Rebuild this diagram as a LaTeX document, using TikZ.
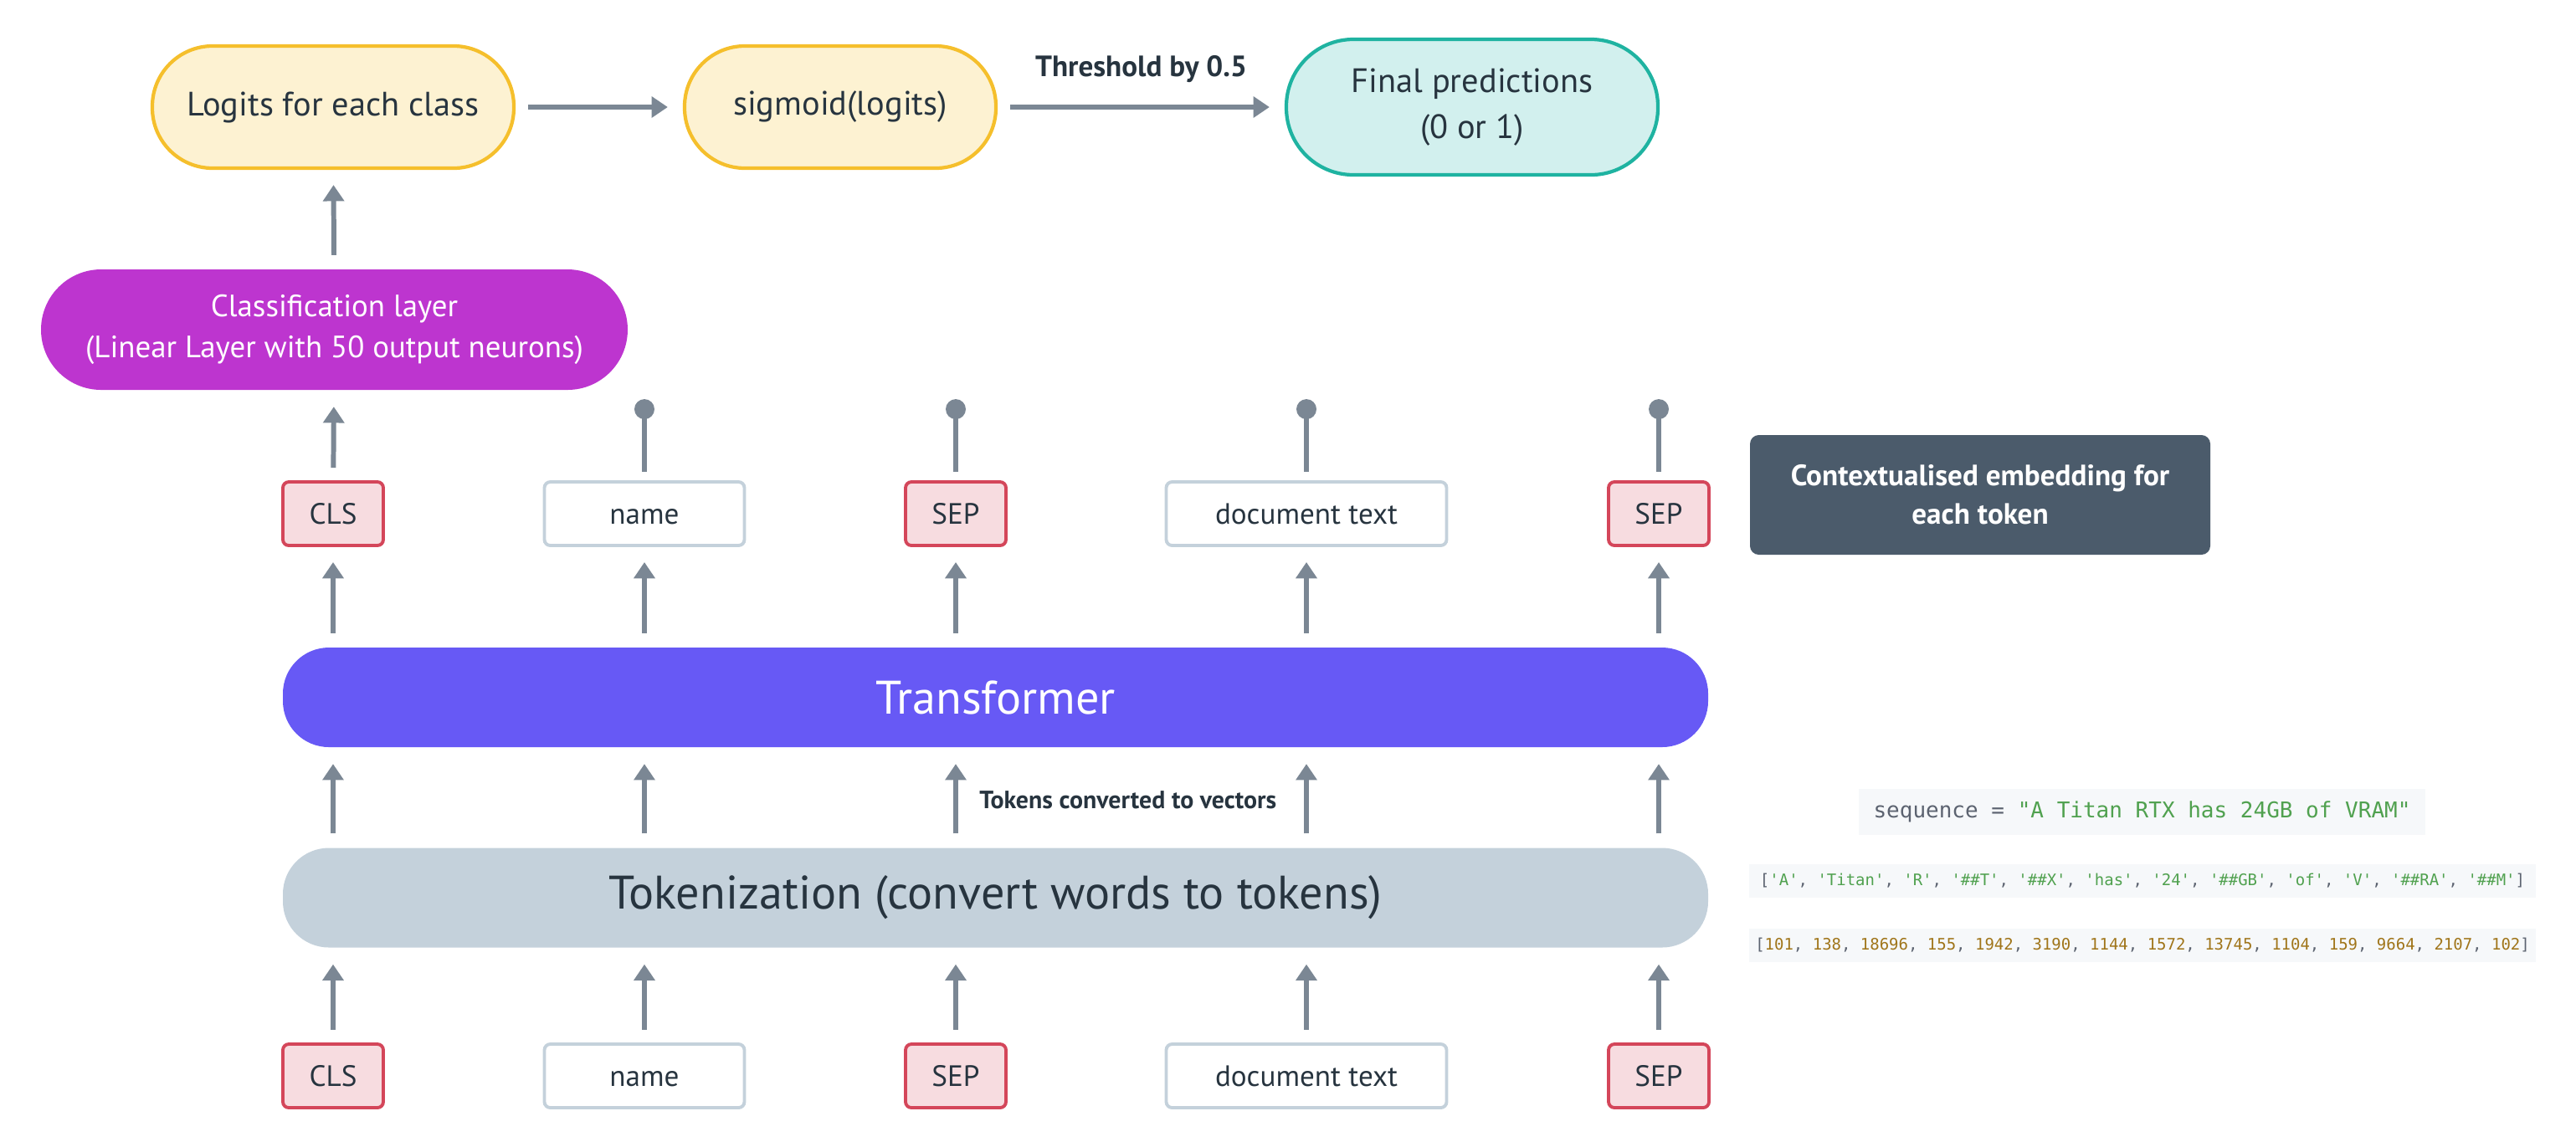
\documentclass[tikz,border=0pt]{standalone}
\usepackage{fontspec}
\usepackage{tikz}
\usepackage{color}
\usetikzlibrary{arrows.meta,positioning}
\setmainfont{PT Sans}
\newfontfamily\codefont{DejaVu Sans Mono}
\definecolor{slate}{HTML}{7B8794}
\definecolor{ink}{HTML}{27343F}
\definecolor{gold}{HTML}{F5BF2C}
\definecolor{cream}{HTML}{FDF2D2}
\definecolor{tealline}{HTML}{1FB3A1}
\definecolor{mint}{HTML}{D2F0EE}
\definecolor{orchid}{HTML}{BD35CF}
\definecolor{indigo}{HTML}{6759F5}
\definecolor{mist}{HTML}{C4D1DB}
\definecolor{redline}{HTML}{D4465A}
\definecolor{redfill}{HTML}{F7DCE0}
\definecolor{darkslate}{HTML}{4B5B6B}
\definecolor{codebg}{HTML}{F6F8FA}
\definecolor{codegray}{HTML}{5C6370}
\definecolor{codegreen}{HTML}{50A14F}
\definecolor{codebrown}{HTML}{A0751A}
\newcommand{\tk}[1]{\textcolor{codegreen}{\textquotesingle#1\textquotesingle}}
\newcommand{\nm}[1]{\textcolor{codebrown}{#1}}

\begin{document}
\begin{tikzpicture}[
  arr/.style={draw=slate, line width=1.7pt, -{Triangle[width=7pt,length=5.5pt]}, shorten <=0.15cm, shorten >=0.18cm},
  stem/.style={draw=slate, line width=1.7pt, shorten <=0.1cm},
  pill/.style={rounded corners=0.72cm, line width=1.2pt, text=ink, align=center, font=\fontsize{11.5}{15.5}\selectfont},
  special/.style={draw=redline, fill=redfill, line width=1.1pt, rounded corners=2pt, minimum width=1.2cm, minimum height=0.76cm, text height=0.7em, text depth=0pt, text=ink, font=\fontsize{10}{12}\selectfont},
  word/.style={special, draw=mist, fill=white},
  code/.style={fill=codebg, text=codegray, inner sep=0pt, font=\codefont\fontsize{5.4}{6}\selectfont}
]
\useasboundingbox (0,0) rectangle (30.78,-13.70);

\node[pill, draw=gold, fill=cream, minimum width=4.32cm, minimum height=1.46cm] (logits) at (3.98,-1.28) {Logits for each class};
\node[pill, draw=gold, fill=cream, minimum width=3.72cm, minimum height=1.46cm] (sigm) at (10.04,-1.28) {sigmoid(logits)};
\node[pill, draw=tealline, fill=mint, minimum width=4.44cm, minimum height=1.62cm, rounded corners=0.8cm] (final) at (17.59,-1.28) {Final predictions\\(0 or 1)};
\node[pill, fill=orchid, text=white, minimum width=7.01cm, minimum height=1.44cm, font=\fontsize{10.5}{14}\selectfont] (clf) at (3.995,-3.94) {Classification layer\\(Linear Layer with 50 output neurons)};
\draw[arr] (logits) -- (sigm);
\draw[arr] (sigm) -- node[above=0.15cm, text=ink, font=\bfseries\fontsize{10}{12}\selectfont] (thr) {Threshold by 0.5} (final);
\draw[arr] (clf) -- (logits);

\node[special] (t1) at (3.98,-6.14) {CLS};
\node[word, minimum width=2.39cm] (t2) at (7.70,-6.14) {name};
\node[special] (t3) at (11.42,-6.14) {SEP};
\node[word, minimum width=3.35cm] (t4) at (15.61,-6.14) {document text};
\node[special] (t5) at (19.82,-6.14) {SEP};
\node[special] (b1) at (3.98,-12.86) {CLS};
\node[word, minimum width=2.39cm] (b2) at (7.70,-12.86) {name};
\node[special] (b3) at (11.42,-12.86) {SEP};
\node[word, minimum width=3.35cm] (b4) at (15.61,-12.86) {document text};
\node[special] (b5) at (19.82,-12.86) {SEP};

\node[pill, fill=indigo, text=white, minimum width=17.03cm, minimum height=1.19cm, rounded corners=0.55cm, font=\fontsize{16}{18}\selectfont] (trf) at (11.895,-8.335) {Transformer};
\node[pill, fill=mist, minimum width=17.03cm, minimum height=1.19cm, rounded corners=0.55cm, font=\fontsize{16}{18}\selectfont] (tok) at (11.895,-10.73) {Tokenization (convert words to tokens)};

\draw[arr] (t1) -- (clf);
\foreach \i in {2,...,5} {
  \draw[stem] (t\i.north) -- ++(0,0.85) coordinate (p\i);
  \fill[slate] (p\i) circle (0.12);
}
\foreach \i in {1,...,5} {
  \draw[arr] (trf.north -| t\i) -- (t\i.south);
  \draw[arr] (tok.north -| b\i) -- (trf.south -| b\i);
  \draw[arr] (b\i.north) -- (tok.south -| b\i);
}
\node[anchor=west, text=ink, font=\bfseries\fontsize{8.5}{10}\selectfont] (conv) at (11.58,-9.56) {Tokens converted to vectors};

\node[fill=darkslate, text=white, rounded corners=3pt, minimum width=5.5cm, minimum height=1.43cm, align=center, font=\bfseries\fontsize{10}{13}\selectfont] (ctx) at (23.66,-5.915) {Contextualised embedding for\\each token};

\node[code, minimum width=6.77cm, minimum height=0.55cm, font=\codefont\fontsize{7.4}{8}\selectfont] (seq) at (25.595,-9.705) {sequence = \textcolor{codegreen}{"A Titan RTX has 24GB of VRAM"}};
\node[code, minimum width=9.40cm, minimum height=0.40cm] (toks) at (25.60,-10.53) {[\tk{A}, \tk{Titan}, \tk{R}, \tk{\#\#T}, \tk{\#\#X}, \tk{has}, \tk{24}, \tk{\#\#GB}, \tk{of}, \tk{V}, \tk{\#\#RA}, \tk{\#\#M}]};
\node[code, minimum width=9.40cm, minimum height=0.40cm] (ids) at (25.60,-11.30) {[\nm{101}, \nm{138}, \nm{18696}, \nm{155}, \nm{1942}, \nm{3190}, \nm{1144}, \nm{1572}, \nm{13745}, \nm{1104}, \nm{159}, \nm{9664}, \nm{2107}, \nm{102}]};
\end{tikzpicture}
\end{document}
